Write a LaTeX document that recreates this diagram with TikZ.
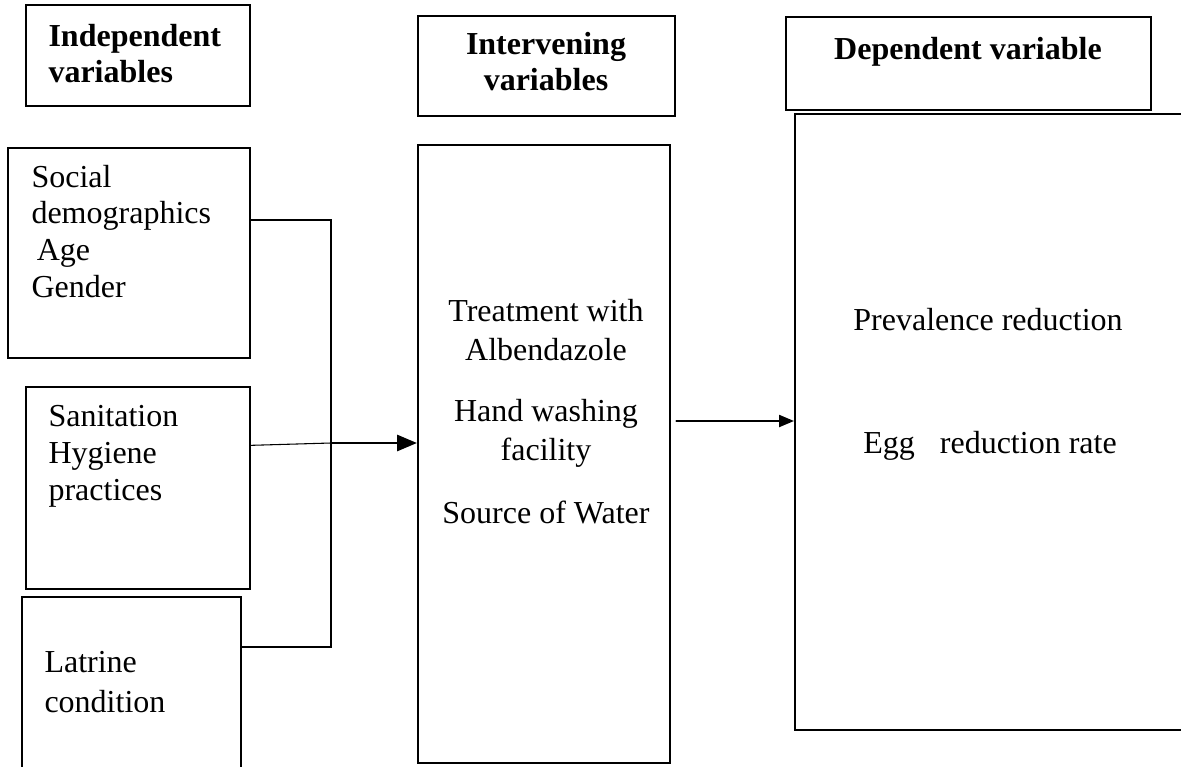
\documentclass[tikz,border=0pt]{standalone}
\usepackage{fontspec}
\setmainfont{Liberation Serif}
\usepackage{tikz}
\usetikzlibrary{arrows.meta,fit}

\begin{document}
\begin{tikzpicture}[x=0.375pt, y=-0.375pt, line cap=round,
    box/.style={draw, line width=0.75pt, inner sep=0pt},
    head/.style={font=\fontsize{12}{13.2}\selectfont\bfseries, inner sep=0pt},
    txt/.style={font=\fontsize{12}{13.7}\selectfont, inner sep=0pt},
    link/.style={line width=0.75pt},
    flecha/.style={line width=1.1pt, -{Triangle[length=7.5pt,width=6pt]}},
    flechab/.style={line width=0.75pt, -{Triangle[length=5.6pt,width=4.5pt]}}]

\useasboundingbox (0,0) rectangle (1181,767);

% === ENCABEZADOS ===
\node[box, fit={(26,5) (250,106)}] (indhead) {};
\node[head, anchor=base west, align=left] (indtxt) at (48,82) {Independent\\variables};
\node[box, fit={(418,16) (675,116)}] (inthead) {};
\node[head, anchor=base, align=center] (inttxt) at (546,90) {Intervening\\variables};
\node[box, fit={(786,17) (1151,110)}] (dephead) {};
\node[head, anchor=base] (deptxt) at (968,59) {Dependent variable};

% === VARIABLES INDEPENDIENTES (izquierda) ===
\node[box, fit={(8,148) (250,358)}] (social) {};
\node[txt, anchor=base west, align=left] (socialtxt) at (31,297)
    {Social\\demographics\\\hspace*{2pt}Age\\Gender};
\node[box, fit={(26,387) (250,589)}] (sanit) {};
\node[txt, anchor=base west, align=left] (sanittxt) at (48,500)
    {Sanitation\\Hygiene\\practices};
\node[box, fit={(22,597) (241,770)}] (latrine) {};
\node[txt, anchor=base west, align=left, font=\fontsize{12}{15}\selectfont] (latrinetxt) at (44,712)
    {Latrine\\condition};

% === VARIABLES INTERVINIENTES (centro) ===
\node[box, fit={(418,145) (670,763)}] (interv) {};
\node[txt, anchor=base, align=center, font=\fontsize{12}{14.6}\selectfont] (intervtxt) at (546,523)
    {Treatment with\\Albendazole\\[8pt]Hand washing\\facility\\[9pt]Source of Water};

% === VARIABLE DEPENDIENTE (derecha) ===
\node[box, fit={(795,114) (1184,730)}] (depbox) {};
\node[txt, anchor=base] (prevtxt) at (988,330) {Prevalence reduction};
\node[txt, anchor=base] (eggtxt) at (990,453) {Egg\hspace{9.4pt}reduction rate};

% === CONEXIONES ===
\coordinate (jtop) at (331,220);
\coordinate (jmid) at (331,443);
\coordinate (jbot) at (331,647);
\coordinate (jdep) at (0,421);
\draw[link] (social.east |- jtop) -- (jtop) -- (jbot) -- (latrine.east |- jbot);
\draw[line width=0.4pt] ([yshift=16pt]sanit.east) -- (jmid);
\draw[flecha] (jmid) -- (interv.west |- jmid);
\draw[flechab] ([xshift=2pt]interv.east |- jdep) -- (depbox.west |- jdep);

\end{tikzpicture}
\end{document}
